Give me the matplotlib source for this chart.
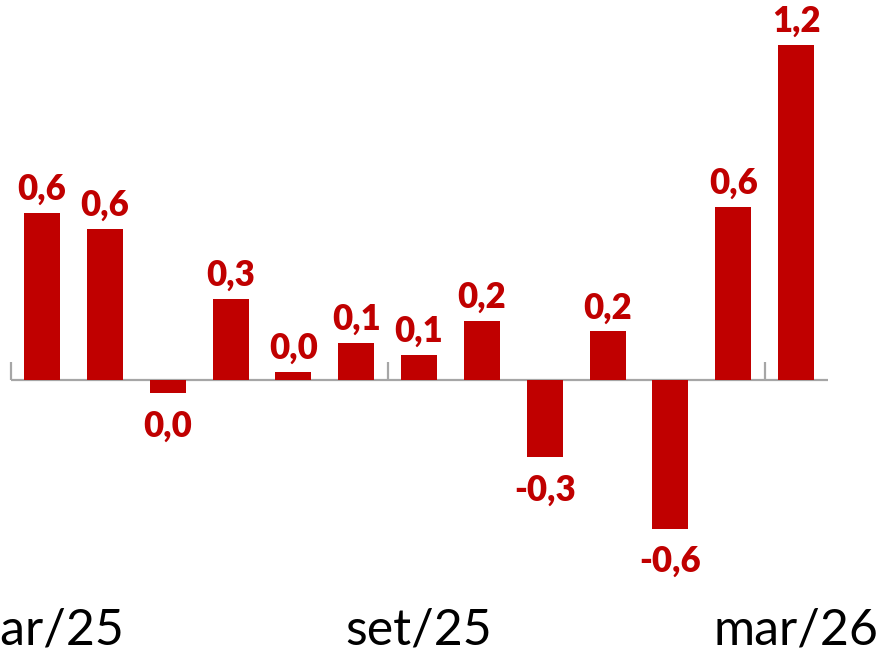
import matplotlib
matplotlib.use("Agg")
import matplotlib.pyplot as plt

plt.rcParams["font.family"] = ["Lato", "DejaVu Sans"]

meses = ["mar/25", "abr/25", "mai/25", "jun/25", "jul/25", "ago/25", "set/25",
         "out/25", "nov/25", "dez/25", "jan/26", "fev/26", "mar/26"]
variacao = [0.62, 0.56, -0.048, 0.30, 0.03, 0.137, 0.093,
            0.22, -0.285, 0.18, -0.55, 0.64, 1.24]
rotulos_x = [0, 6, 12]   # meses com rotulo no eixo
marcas_x = [-0.5, 5.5, 11.5]

vermelho = "#C00000"
cinza = "#A6A6A6"

fig = plt.figure(figsize=(8.81, 6.52), dpi=100)
ax = fig.add_axes([0, 0, 1, 1])

x = list(range(len(variacao)))
ax.bar(x, variacao, width=0.573, color=vermelho, zorder=2)

# linha do eixo e marcas a cada seis meses
ax.hlines(0, -0.5, 12.5, color=cinza, linewidth=1.6, zorder=1)
ax.vlines(marcas_x, 0, 0.067, color=cinza, linewidth=1.6, zorder=1)

for i, v in zip(x, variacao):
    txt = f"{round(v, 1) + 0.0:.1f}".replace(".", ",")
    if v >= 0:
        ax.annotate(txt, (i, v), xytext=(0, 5), textcoords="offset points",
                    ha="center", va="bottom", color=vermelho,
                    fontsize=25, fontweight="heavy")
    else:
        ax.annotate(txt, (i, v), xytext=(0, -12), textcoords="offset points",
                    ha="center", va="top", color=vermelho,
                    fontsize=25, fontweight="heavy")

for i in rotulos_x:
    ax.text(i, -0.981, meses[i], ha="center", va="baseline",
            fontsize=36, color="black")

ax.set_xlim(-0.668, 13.35)
ax.set_ylim(-1.007, 1.407)
ax.axis("off")

fig.savefig("out.png", dpi=100)
